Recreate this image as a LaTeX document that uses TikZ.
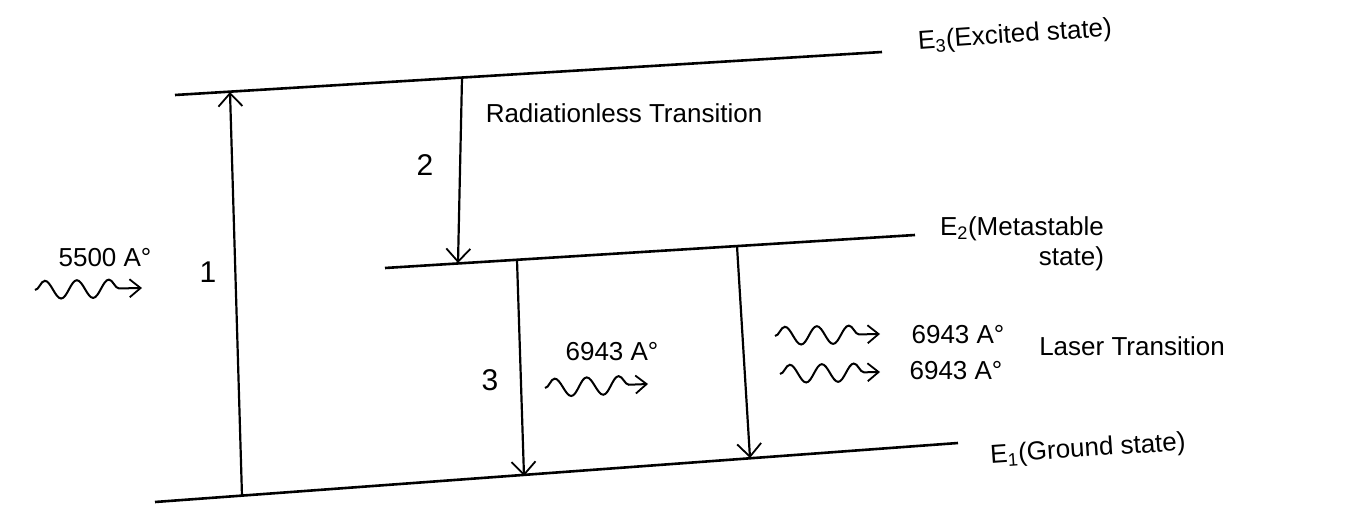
\documentclass[tikz,border=0pt]{standalone}
\usepackage{fontspec}
\setmainfont{Liberation Sans}
\usetikzlibrary{arrows.meta,decorations.pathmorphing}
\begin{document}
\begin{tikzpicture}[x=1pt,y=-1pt,
  level/.style={line width=2.6pt},
  trans/.style={line width=2.2pt,-{Straight Barb[length=13pt,width=24pt,line width=1.8pt]}},
  photon/.style={line width=2pt,decorate,decoration={snake,amplitude=9pt,segment length=32pt,post length=16pt,pre length=0pt},-{Straight Barb[length=11pt,width=18pt,line width=1.8pt]}},
  lbl/.style={font=\fontsize{26}{30}\selectfont,inner sep=0pt},
  num/.style={font=\fontsize{30}{34}\selectfont,inner sep=0pt}]
\useasboundingbox (0,0) rectangle (1347,508);
% levels
\coordinate (e3l) at (175,95);  \coordinate (e3r) at (882,52);
\coordinate (e2l) at (385,268); \coordinate (e2r) at (915,235);
\coordinate (e1l) at (155,502); \coordinate (e1r) at (958,443);
\draw[level] (e3l) -- (e3r);
\draw[level] (e2l) -- (e2r);
\draw[level] (e1l) -- (e1r);
% transitions
\coordinate (t1a) at (242,496); \coordinate (t1b) at (230,92);
\coordinate (t2a) at (462,78);  \coordinate (t2b) at (458,263);
\coordinate (t3a) at (517,260); \coordinate (t3b) at (524,476);
\coordinate (t4a) at (737,246); \coordinate (t4b) at (750,458);
\draw[trans] (t1a) -- (t1b);
\draw[trans] (t2a) -- (t2b);
\draw[trans] (t3a) -- (t3b);
\draw[trans] (t4a) -- (t4b);
% labels
\node[lbl,rotate=4] (le3) at (1015,36) {E\textsubscript{3}(Excited state)};
\node[lbl] (lrad) at (624,113) {Radiationless Transition};
\node[lbl,align=right] (le2) at (1022,244) {E\textsubscript{2}(Metastable\\ state)};
\node[lbl,rotate=4] (le1) at (1088,450) {E\textsubscript{1}(Ground state)};
\node[lbl] (l5500) at (105,258) {5500 A°};
\node[lbl] (lmid) at (612,352) {6943 A°};
\node[lbl] (lr1) at (958,335) {6943 A°};
\node[lbl] (lr2) at (956,371) {6943 A°};
\node[lbl] (llaser) at (1132,346) {Laser Transition};
\node[num] (n1) at (208,272) {1};
\node[num] (n2) at (425,165) {2};
\node[num] (n3) at (490,380) {3};
% photons
\coordinate (p1a) at (35,290);  \coordinate (p1b) at (142,288);
\coordinate (p2a) at (545,388); \coordinate (p2b) at (648,384);
\coordinate (p3a) at (775,336); \coordinate (p3b) at (880,334);
\coordinate (p4a) at (780,374); \coordinate (p4b) at (880,372);
\draw[photon] (p1a) -- (p1b);
\draw[photon] (p2a) -- (p2b);
\draw[photon] (p3a) -- (p3b);
\draw[photon] (p4a) -- (p4b);
\end{tikzpicture}
\end{document}
